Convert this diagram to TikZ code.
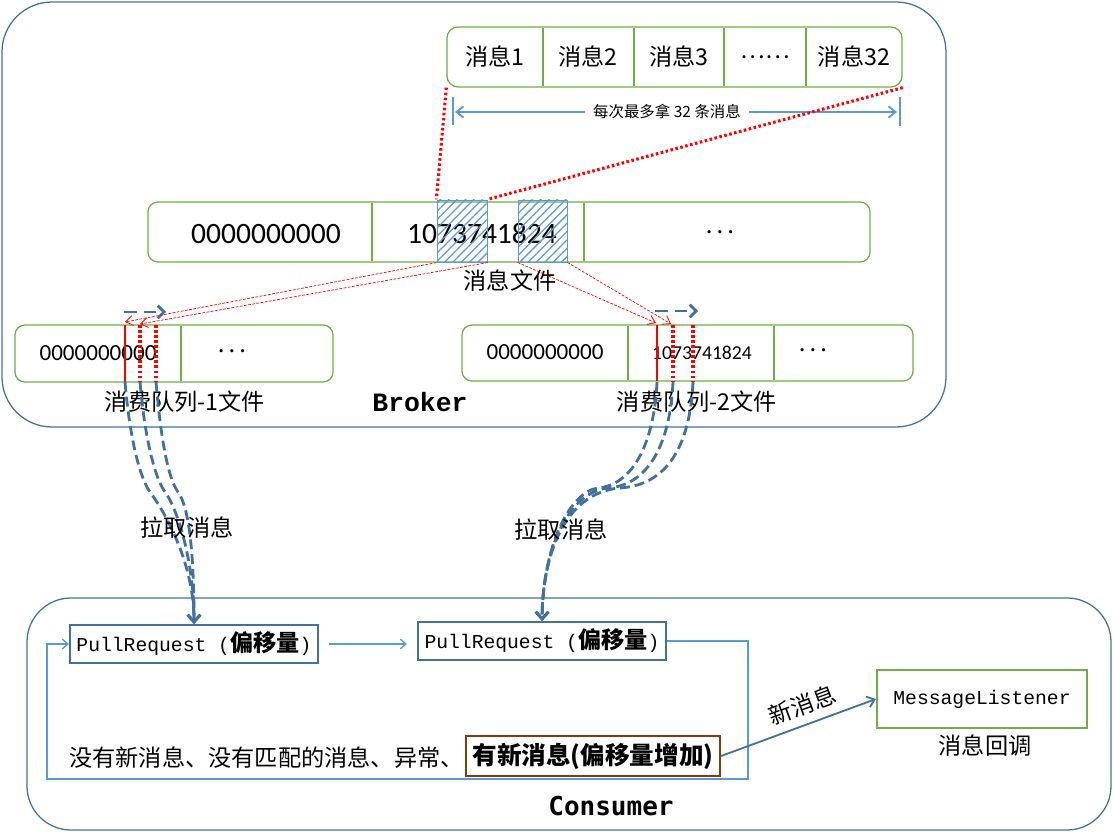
\documentclass[tikz,border=0pt]{standalone}
\usepackage{fontspec}
\setmainfont{Noto Sans CJK SC}
\newfontfamily\numfont{Carlito}
\newfontfamily\codefont{Liberation Mono}
\newfontfamily\titlefont{Liberation Mono}
\newfontfamily\consfont{DejaVu Sans Mono}
\usetikzlibrary{arrows.meta,patterns.meta}

\definecolor{frameblue}{HTML}{41719C}
\definecolor{lightblue}{HTML}{5B9BD5}
\definecolor{boxgreen}{HTML}{70AD47}
\definecolor{brownline}{HTML}{843C0C}

\tikzset{
  frame/.style={draw=frameblue, line width=0.9pt},
  greenbox/.style={draw=boxgreen, line width=0.9pt, rounded corners=0.28cm, inner sep=0pt},
  divider/.style={draw=boxgreen, line width=2pt},
  hatched/.style={draw=lightblue, line width=0.6pt, inner sep=0pt,
    pattern={Lines[angle=45,distance=4.2pt,line width=0.9pt]}, pattern color=lightblue},
  zh/.style={font=\fontsize{16.5}{18}\selectfont, inner sep=0pt},
  tick/.style={draw=lightblue, line width=2pt},
  rangearrow/.style={draw=lightblue, line width=1.3pt, -{Straight Barb[length=5pt,width=8pt]}},
  reddot/.style={draw=red, line width=2.2pt, dash pattern=on 1.8pt off 1.8pt},
  redmark/.style={draw=red, line width=1.4pt},
  redarrow/.style={draw=red, line width=0.5pt, dash pattern=on 2pt off 1pt,
    -{Straight Barb[length=5pt,width=7pt,line width=0.6pt]}},
  shiftarrow/.style={draw=frameblue, line width=2pt, dash pattern=on 9pt off 5pt,
    -{Straight Barb[length=4.5pt,width=9pt]}},
  pull/.style={draw=frameblue, line width=2pt, dash pattern=on 7pt off 3.5pt,
    -{Straight Barb[length=5pt,width=9pt]}},
  prbox/.style={draw=frameblue, line width=1.5pt, inner sep=0pt,
    minimum width=6.2cm, minimum height=0.95cm},
  loopline/.style={draw=lightblue, line width=1pt},
  looparrow/.style={loopline, -{Straight Barb[length=4pt,width=7pt]}}
}

\begin{document}
\begin{tikzpicture}[x=0.025cm, y=-0.025cm]
  \useasboundingbox (0,0) rectangle (1113,832);
  % Broker and Consumer frames
  \draw[frame, rounded corners=1.25cm] (2,2) rectangle (946,427);
  \draw[frame, rounded corners=1.1cm] (27,598) rectangle (1111,830);
  \node[font=\titlefont\bfseries\fontsize{18.8}{20}\selectfont, inner sep=0pt] (broker) at (420,402) {Broker};
  \node[font=\consfont\bfseries\fontsize{18.5}{20}\selectfont, inner sep=0pt] (consumer) at (611,806) {Consumer};

  % the 32 messages of one pull
  \node[greenbox, minimum width=11.375cm, minimum height=1.5cm] (strip) at (674.5,57) {};
  \foreach \x in {543,634,724,806}
    \draw[divider] (\x,28) -- (\x,86);
  \node[zh] (m1) at (495,57) {消息1};
  \node[zh] (m2) at (588,57) {消息2};
  \node[zh] (m3) at (679,57) {消息3};
  \node[zh] (mdots) at (765,57) {……};
  \node[zh] (m32) at (854,57) {消息32};

  % at most 32 messages
  \draw[tick] (453,97) -- (453,125);
  \draw[tick] (900,97) -- (900,126);
  \node[font=\fontsize{11}{12}\selectfont, inner sep=0.2cm] (range) at (667,112) {每次最多拿 32 条消息};
  \draw[rangearrow] (range.west) -- (455,112);
  \draw[rangearrow] (range.east) -- (897,112);

  % message file
  \node[greenbox, rounded corners=0.25cm, minimum width=18.05cm, minimum height=1.5cm] (file) at (509,232) {};
  \draw[divider] (372,203) -- (372,261);
  \draw[divider] (584,203) -- (584,261);
  \node[font=\numfont\fontsize{21}{22}\selectfont, inner sep=0pt] (f0) at (266,234) {0000000000};
  \node[font=\numfont\fontsize{21}{22}\selectfont, inner sep=0pt] (f1) at (482,234) {1073741824};
  \node[font=\numfont\fontsize{16}{18}\selectfont, inner sep=0pt] (fdots) at (720,235) {· · ·};
  \node[hatched, minimum width=1.25cm, minimum height=1.55cm] (hA) at (462,231) {};
  \node[hatched, minimum width=1.225cm, minimum height=1.55cm] (hB) at (542.5,231) {};
  \node[zh] (filelabel) at (510,281) {消息文件};

  % the block of the pull
  \draw[reddot] (strip.south west) -- (hA.north west);
  \draw[reddot] (strip.south east) -- (hA.north east);

  % consume queue 1
  \node[greenbox, rounded corners=0.25cm, minimum width=7.95cm, minimum height=1.425cm] (q1) at (174,353.5) {};
  \draw[divider] (181,326) -- (181,381);
  \node[font=\numfont\fontsize{16.4}{18}\selectfont, inner sep=0pt] (q1a) at (98,353) {0000000000};
  \node[font=\numfont\fontsize{16}{18}\selectfont, inner sep=0pt] (q1b) at (232,354) {· · ·};
  \draw[redmark] (125,325) -- (125,382);
  \draw[reddot] (140,325) -- (140,382);
  \draw[reddot] (156,325) -- (156,382);
  \coordinate (q1old) at (125,322);
  \coordinate (q1new) at (140,324);
  \draw[shiftarrow] (124,312) -- (166,312);
  \node[zh] (q1label) at (185,402) {消费队列-1文件};

  % consume queue 2
  \node[greenbox, rounded corners=0.25cm, minimum width=11.275cm, minimum height=1.4cm] (q2) at (687.5,353) {};
  \draw[divider] (628,326) -- (628,380);
  \draw[divider] (774,326) -- (774,380);
  \node[font=\numfont\fontsize{16.4}{18}\selectfont, inner sep=0pt] (q2a) at (545,352) {0000000000};
  \node[font=\numfont\fontsize{14}{16}\selectfont, inner sep=0pt] (q2b) at (702,353) {1073741824};
  \node[font=\numfont\fontsize{16}{18}\selectfont, inner sep=0pt] (q2c) at (813,353) {· · ·};
  \draw[redmark] (657,325) -- (657,381);
  \draw[reddot] (673,325) -- (673,381);
  \draw[reddot] (693,325) -- (693,381);
  \coordinate (q2old) at (656,323);
  \coordinate (q2new) at (671,324);
  \draw[shiftarrow] (655,311) -- (698,311);
  \node[zh] (q2label) at (697,402) {消费队列-2文件};

  % index entries point into the message file
  \draw[redarrow] (hA.south west) -- (q1old);
  \draw[redarrow] (hA.south east) -- (q1new);
  \draw[redarrow] (hB.south west) -- (q2old);
  \draw[redarrow] (hB.south east) -- (q2new);

  % pull requests in the consumer
  \node[prbox] (pr1) at (194,644) {{\codefont\fontsize{14}{15}\selectfont PullRequest (}\fontsize{16.5}{18}\selectfont\textbf{偏移量}{\codefont\fontsize{14}{15}\selectfont )}};
  \node[prbox] (pr2) at (542,641) {{\codefont\fontsize{14}{15}\selectfont PullRequest (}\fontsize{16.5}{18}\selectfont\textbf{偏移量}{\codefont\fontsize{14}{15}\selectfont )}};

  % pulling messages
  \foreach \s/\m in {125/150, 140/165, 156/178}
    \draw[pull] (\s,382) .. controls (\s+5,440) and (\m-10,478) .. (\m,492)
      .. controls (\m+12,508) and (194,560) .. (pr1.north);
  \foreach \s/\m in {657/598, 673/608, 693/620}
    \draw[pull] (\s,382) .. controls (\s-3,445) and (\s-25,485) .. (\m,488)
      .. controls (570,492) and (543,545) .. (pr2.north);
  \node[zh] (pull1) at (187,528) {拉取消息};
  \node[zh] (pull2) at (561,530) {拉取消息};

  % request loop
  \draw[looparrow, shorten <=0.25cm, shorten >=0.25cm] (pr1.east) -- (pr2.west |- pr1.east);
  \coordinate (loopR) at (748,779);
  \coordinate (loopL) at (47,779);
  \draw[looparrow] (pr2.east) -| (loopR) -- (loopL) |- (pr1.west);

  % results of a pull
  \node[zh, anchor=east] (noresult) at (464,758) {没有新消息、没有匹配的消息、异常、};
  \node[draw=brownline, line width=1.5pt, inner sep=0pt, minimum width=6.35cm, minimum height=1cm,
    font=\bfseries\fontsize{17.5}{19}\selectfont] (newmsg) at (593,756) {有新消息(偏移量增加)};

  % message listener
  \node[draw=boxgreen, line width=1.5pt, inner sep=0pt, minimum width=5.25cm, minimum height=1.45cm,
    font=\codefont\fontsize{14}{16}\selectfont] (listener) at (982,699) {MessageListener};
  \node[zh] (callback) at (985,746) {消息回调};
  \draw[draw=frameblue, line width=1.3pt, -{Straight Barb[length=5pt,width=8pt]}]
    (newmsg.east) -- node[zh, sloped, above=0.2cm, pos=0.57] {新消息} (listener.west);
\end{tikzpicture}
\end{document}
